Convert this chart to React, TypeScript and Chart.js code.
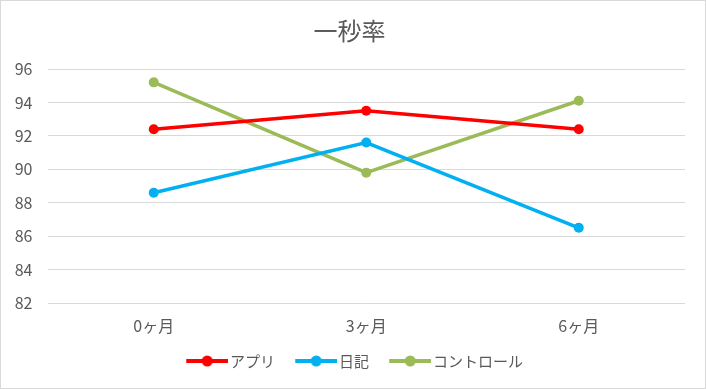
import React, { useEffect, useRef } from "react";
import { Chart, registerables } from "chart.js";

Chart.register(...registerables);

const title = "一秒率";
const categories = ["0ヶ月", "3ヶ月", "6ヶ月"];
const appValues = [92.4, 93.5, 92.4];
const diaryValues = [88.6, 91.6, 86.5];
const controlValues = [95.2, 89.8, 94.1];
const seriesNames = ["アプリ", "日記", "コントロール"];
const seriesColors = ["#FF0000", "#00B0F0", "#9BBB59"];
const yMin = 82;
const yMax = 96;
const yStep = 2;

const FONT = "'Noto Sans CJK JP', 'Noto Sans', sans-serif";
const TEXT = "#595959";

function legendMarker(color: string): HTMLCanvasElement {
  const c = document.createElement("canvas");
  c.width = 58;
  c.height = 12;
  const ctx = c.getContext("2d")!;
  ctx.strokeStyle = color;
  ctx.lineWidth = 4;
  ctx.beginPath();
  ctx.moveTo(16, 6);
  ctx.lineTo(58, 6);
  ctx.stroke();
  ctx.fillStyle = color;
  ctx.beginPath();
  ctx.arc(37, 6, 5.5, 0, Math.PI * 2);
  ctx.fill();
  return c;
}

export default function App() {
  const ref = useRef<HTMLCanvasElement | null>(null);

  useEffect(() => {
    document.body.style.margin = "0";
    const canvas = ref.current;
    if (!canvas) return;
    const markers = seriesColors.map(legendMarker);
    const values = [appValues, diaryValues, controlValues];

    const legendFix = {
      id: "legendFix",
      beforeInit(chart: any) {
        const lg = chart.legend;
        if (lg) {
          const orig = lg.fit.bind(lg);
          lg.fit = function () {
            orig();
            this.height = 44.5;
          };
        }
      },
    };

    const chart = new Chart(canvas, {
      type: "line",
      data: {
        labels: categories,
        datasets: seriesNames.map((name, i) => ({
          label: name,
          data: values[i],
          borderColor: seriesColors[i],
          backgroundColor: seriesColors[i],
          borderWidth: 3.5,
          pointRadius: 5,
          pointHoverRadius: 5,
          pointBorderWidth: 0,
          tension: 0,
          fill: false,
        })),
      },
      options: {
        animation: false,
        responsive: true,
        maintainAspectRatio: false,
        layout: { padding: { left: 13, right: 20, top: 0, bottom: 0 } },
        scales: {
          x: {
            offset: true,
            grid: { display: false, drawTicks: false },
            border: { display: false },
            ticks: { color: TEXT, font: { family: FONT, size: 16 }, padding: 13 },
            afterFit(scale: any) {
              scale.height = 40.5;
            },
          },
          y: {
            min: yMin,
            max: yMax,
            grid: { color: "#d9d9d9", lineWidth: 1, drawTicks: false },
            border: { display: false },
            ticks: {
              stepSize: yStep,
              color: TEXT,
              font: { family: FONT, size: 16 },
              padding: 15,
            },
            afterFit(scale: any) {
              scale.width = 33.5;
            },
          },
        },
        plugins: {
          title: {
            display: true,
            text: title,
            color: TEXT,
            font: { family: FONT, size: 24, weight: "normal" },
            padding: { top: 15.6, bottom: 23.6 },
          },
          legend: {
            position: "bottom",
            labels: {
              usePointStyle: true,
              pointStyleWidth: 46.5,
              boxHeight: 12,
              padding: 10,
              color: TEXT,
              font: { family: FONT, size: 15 },
              generateLabels(ch: any) {
                const items = Chart.defaults.plugins.legend.labels.generateLabels(ch);
                items.forEach((it: any, i: number) => {
                  it.pointStyle = markers[i];
                });
                return items;
              },
            },
          },
          tooltip: { enabled: false },
        },
      },
      plugins: [legendFix],
    } as any);
    return () => chart.destroy();
  }, []);

  return (
    <div
      style={{
        width: 706,
        height: 389,
        boxSizing: "border-box",
        border: "1px solid #d9d9d9",
        background: "#fff",
        position: "relative",
      }}
    >
      <canvas ref={ref} />
    </div>
  );
}
